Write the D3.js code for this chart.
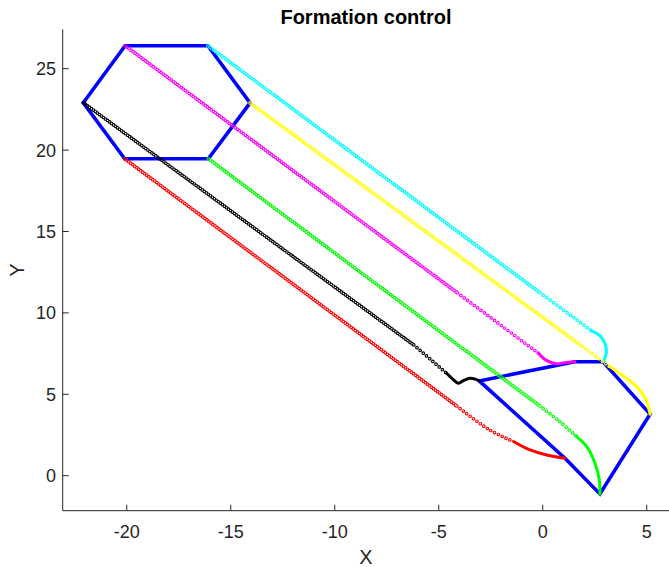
<!DOCTYPE html>
<meta charset="utf-8">
<style>
body { margin: 0; background: #fff; }
svg text { font-family: Arial, "Liberation Sans", Helvetica, sans-serif; fill: #262626; }
</style>
<body>
<svg width="669" height="567"></svg>
<script src="https://d3js.org/d3.v7.min.js"></script>
<script>

// agents, in the order the formation polygon is closed
var agents = ["black", "magenta", "cyan", "yellow", "green", "red"];
var agentColors = ["#000000", "#ff00ff", "#00ffff", "#ffff00", "#00ff00", "#ff0000"];

// trajectory waypoints [x, y]
var pathBlack   = [[-22.09, 22.91], [-6.2, 8.03], [-4.62, 6.29], [-4.3, 5.9], [-4.06, 5.68], [-3.8, 5.85], [-3.5, 5.98], [-3.25, 5.93], [-3.05, 5.82]];
var pathMagenta = [[-20.08, 26.41], [-4.1, 11.23], [-0.2, 7.52], [0.15, 7.1], [0.67, 6.88], [1.1, 6.95], [1.55, 7.0]];
var pathCyan    = [[-16.1, 26.41], [-0.13, 11.24], [2.35, 8.9], [2.75, 8.6], [3.0, 8.1], [3.06, 7.6], [2.98, 7.2], [2.9, 7.0]];
var pathYellow  = [[-14.07, 22.9], [1.9, 7.95], [3.2, 6.72], [3.9, 6.1], [4.52, 5.47], [4.95, 4.7], [5.16, 3.78]];
var pathGreen   = [[-16.08, 19.47], [-0.13, 4.28], [0.8, 3.35], [1.63, 2.4], [2.12, 1.78], [2.51, 0.76], [2.72, -0.26], [2.75, -1.12]];
var pathRed     = [[-20.1, 19.47], [-4.13, 4.28], [-2.6, 2.85], [-1.41, 2.1], [-0.61, 1.58], [0.19, 1.27], [1.07, 1.07]];

// index where the dense markers end, and where the sparse markers end (solid after)
var phaseBlack = [1, 2], phaseMagenta = [1, 2], phaseCyan = [1, 2],
    phaseYellow = [1, 2], phaseGreen = [1, 3], phaseRed = [1, 3];

var xTicks = [-20, -15, -10, -5, 0, 5];
var yTicks = [0, 5, 10, 15, 20, 25];

var paths = [pathBlack, pathMagenta, pathCyan, pathYellow, pathGreen, pathRed];
var phases = [phaseBlack, phaseMagenta, phaseCyan, phaseYellow, phaseGreen, phaseRed];

var svg = d3.select("svg"),
    width = +svg.attr("width"),
    height = +svg.attr("height");

var x = d3.scaleLinear().domain([-23.08, 6.1]).range([62.7, 669.6]);
var y = d3.scaleLinear().domain([-2.15, 27.42]).range([510.7, 29.3]);

var line = d3.line()
    .x(function(d) { return x(d[0]); })
    .y(function(d) { return y(d[1]); })
    .curve(d3.curveCatmullRom.alpha(0.5));

var polyLine = d3.line()
    .x(function(d) { return x(d[0]); })
    .y(function(d) { return y(d[1]); })
    .curve(d3.curveLinearClosed);

// formations: first and last points of every trajectory
var startShape = paths.map(function(p) { return p[0]; });
var endShape = paths.map(function(p) { return p[p.length - 1]; });

svg.selectAll(".formation")
    .data([startShape, endShape])
    .enter().append("path")
    .attr("class", "formation")
    .attr("d", polyLine)
    .attr("fill", "none")
    .attr("stroke", "#0000ff")
    .attr("stroke-width", 3.6)
    .attr("stroke-linejoin", "miter");

var defs = svg.append("defs");
var denseGap = 2.5, sparseGap = 4.2;

paths.forEach(function(p, i) {
  var ph = phases[i];
  var dotted = [
    { pts: p.slice(0, ph[0] + 1), gap: denseGap },
    { pts: p.slice(ph[0], ph[1] + 1), gap: sparseGap }
  ];
  var solid = p.slice(ph[1]);

  // hollow marker centres
  var mask = defs.append("mask")
      .attr("id", "hole" + i)
      .attr("maskUnits", "userSpaceOnUse")
      .attr("x", 0).attr("y", 0).attr("width", width).attr("height", height);
  mask.append("rect").attr("width", width).attr("height", height).attr("fill", "#fff");

  var g = svg.append("g").attr("class", "agent " + agents[i]);
  var rings = g.append("g").attr("mask", "url(#hole" + i + ")");

  dotted.forEach(function(seg) {
    mask.append("path")
        .attr("d", line(seg.pts))
        .attr("fill", "none")
        .attr("stroke", "#000")
        .attr("stroke-width", 1.5)
        .attr("stroke-linecap", "round")
        .attr("stroke-dasharray", "0 " + seg.gap);
    rings.append("path")
        .attr("d", line(seg.pts))
        .attr("fill", "none")
        .attr("stroke", agentColors[i])
        .attr("stroke-width", 3.7)
        .attr("stroke-linecap", "round")
        .attr("stroke-dasharray", "0 " + seg.gap);
  });

  g.append("path")
      .attr("d", line(solid))
      .attr("fill", "none")
      .attr("stroke", agentColors[i])
      .attr("stroke-width", 3)
      .attr("stroke-linecap", "round");
});

// axes (box off: only left and bottom)
var axisColor = "#262626";
var ax = svg.append("g").attr("class", "axes");

ax.append("line")
    .attr("x1", x.range()[0]).attr("x2", width)
    .attr("y1", y.range()[0]).attr("y2", y.range()[0])
    .attr("stroke", axisColor).attr("stroke-width", 1);
ax.append("line")
    .attr("x1", x.range()[0]).attr("x2", x.range()[0])
    .attr("y1", y.range()[0]).attr("y2", y.range()[1])
    .attr("stroke", axisColor).attr("stroke-width", 1);

ax.selectAll(".xtick")
    .data(xTicks)
    .enter().append("line")
    .attr("x1", function(d) { return x(d); })
    .attr("x2", function(d) { return x(d); })
    .attr("y1", y.range()[0]).attr("y2", y.range()[0] - 6)
    .attr("stroke", axisColor);
ax.selectAll(".xlabel")
    .data(xTicks)
    .enter().append("text")
    .attr("x", function(d) { return x(d); })
    .attr("y", 538)
    .attr("text-anchor", "middle")
    .style("font-size", "18px")
    .text(function(d) { return d; });

ax.selectAll(".ytick")
    .data(yTicks)
    .enter().append("line")
    .attr("x1", x.range()[0]).attr("x2", x.range()[0] + 6)
    .attr("y1", function(d) { return y(d); })
    .attr("y2", function(d) { return y(d); })
    .attr("stroke", axisColor);
ax.selectAll(".ylabel")
    .data(yTicks)
    .enter().append("text")
    .attr("x", 56)
    .attr("y", function(d) { return y(d) + 6.5; })
    .attr("text-anchor", "end")
    .style("font-size", "18px")
    .text(function(d) { return d; });

svg.append("text")
    .attr("x", 366).attr("y", 564)
    .attr("text-anchor", "middle")
    .style("font-size", "20px")
    .text("X");

svg.append("text")
    .attr("transform", "translate(24,270) rotate(-90)")
    .attr("text-anchor", "middle")
    .style("font-size", "20px")
    .text("Y");

svg.append("text")
    .attr("x", 366).attr("y", 24)
    .attr("text-anchor", "middle")
    .style("font-size", "20px")
    .style("font-weight", "bold")
    .style("fill", "#000")
    .text("Formation control");

</script>
</body>
</html>
